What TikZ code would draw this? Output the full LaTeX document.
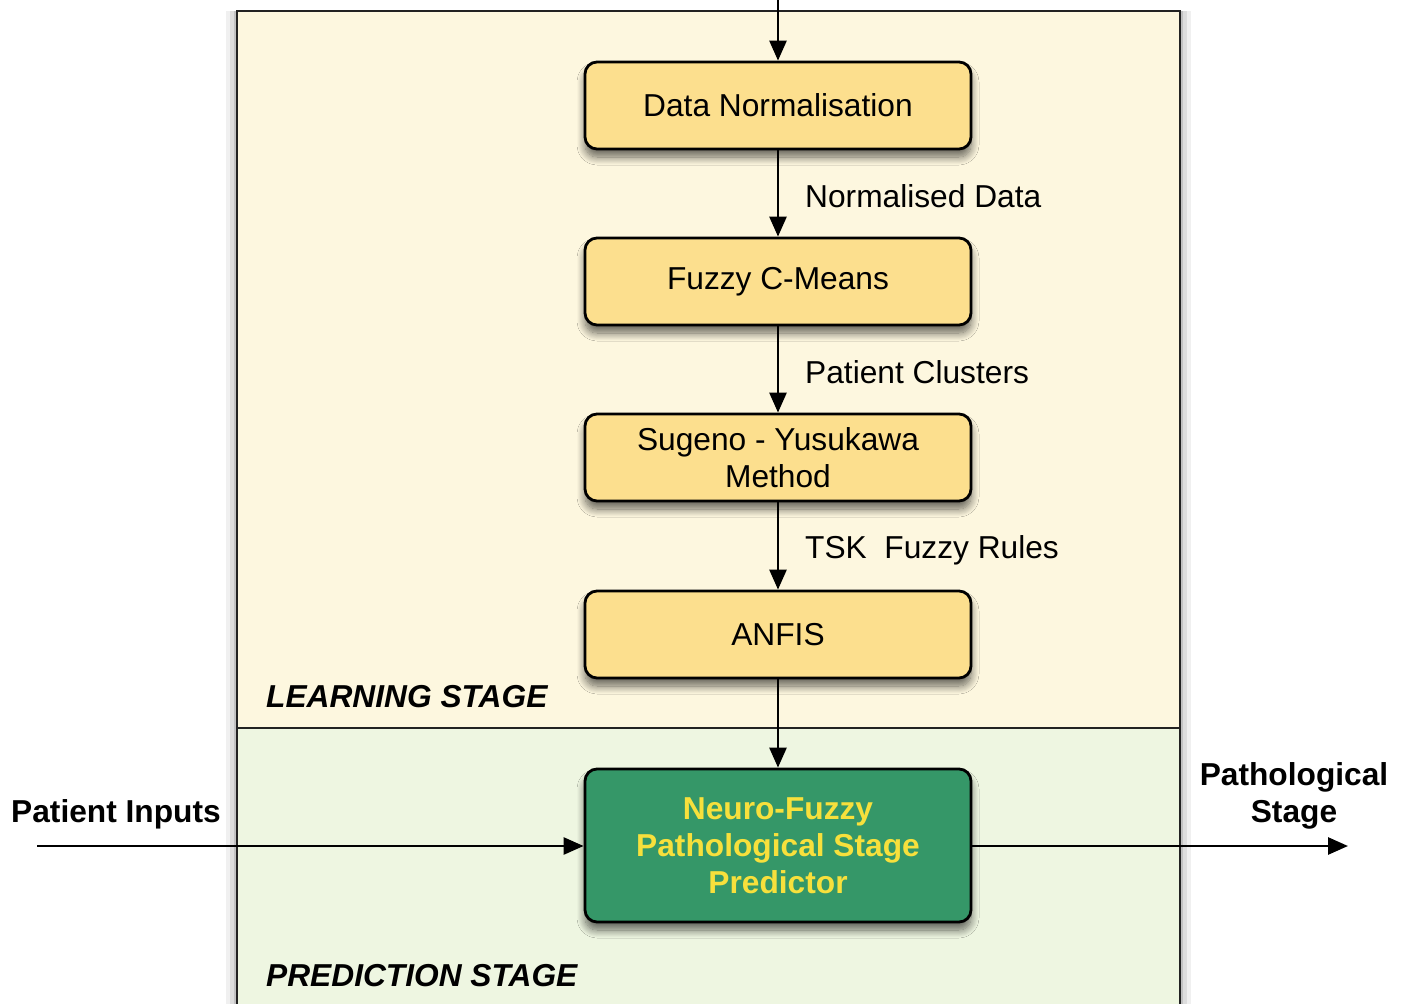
\documentclass[tikz,border=0pt]{standalone}
\usepackage{fontspec}
\setmainfont{Liberation Sans}
\usetikzlibrary{arrows.meta,shadows.blur}
\definecolor{cream}{HTML}{FDF7DF}
\definecolor{palegreen}{HTML}{EEF6E1}
\definecolor{boxyellow}{HTML}{FCDF8E}
\definecolor{boxgreen}{HTML}{359768}
\definecolor{txtyellow}{HTML}{F7E03C}
\definecolor{framegray}{HTML}{222222}
\begin{document}
\begin{tikzpicture}[x=1pt,y=-1pt,
  txt/.style={font=\fontsize{31.7}{37.5}\selectfont},
  btxt/.style={font=\fontsize{31.7}{37}\selectfont\bfseries},
  stagetxt/.style={font=\fontsize{31.7}{37}\selectfont\bfseries\itshape, anchor=base west, inner sep=0pt},
  procbox/.style={rectangle, rounded corners=12pt, draw=black, line width=2.8pt,
     fill=boxyellow, minimum width=386pt, minimum height=87pt, align=center, txt,
     blur shadow={shadow blur steps=12, shadow xshift=0pt, shadow yshift=-8pt, shadow opacity=60, shadow blur radius=8pt}},
  predbox/.style={procbox, fill=boxgreen, minimum height=153pt, text=txtyellow, btxt},
  conn/.style={line width=2.7pt, -{Triangle[length=20pt,width=17pt]}},
  lbl/.style={txt, anchor=base west, inner sep=0pt}
]
\useasboundingbox (0,0) rectangle (1406,1004);
\clip (0,0) rectangle (1406,1004);
% frame shadow
\fill[black, opacity=0.06] (226,11) rectangle (1191,1020);
\fill[black, opacity=0.08] (230,11) rectangle (1187,1020);
\fill[black, opacity=0.12] (234,11) rectangle (1183,1020);
% stage regions
\fill[cream] (237,11) rectangle (1180,728);
\fill[palegreen] (237,728) rectangle (1180,1020);
\draw[framegray, line width=2.4pt] (237,1020) -- (237,11) -- (1180,11) -- (1180,1020);
\draw[framegray, line width=2.4pt] (237,728) -- (1180,728);
% stage labels
\node[stagetxt] (learn) at (266,707) {LEARNING STAGE};
\node[stagetxt] (pred) at (266,986) {PREDICTION STAGE};
% boxes
\node[procbox] (dn) at (778,105.5) {Data Normalisation};
\node[procbox] (fcm) at (778,281.5) {\raisebox{-3pt}{Fuzzy C-Means}};
\node[procbox] (sy) at (778,457.5) {Sugeno - Yusukawa\\Method};
\node[procbox] (anfis) at (778,634.5) {ANFIS};
\node[predbox] (nf) at (778,845.5) {Neuro-Fuzzy\\Pathological Stage\\Predictor};
% connectors
\coordinate (top) at (778,0);
\coordinate (inp) at (37,846);
\coordinate (outp) at (1348,846);
\draw[conn] (top) -- (dn);
\draw[conn] (dn) -- (fcm);
\draw[conn] (fcm) -- (sy);
\draw[conn] (sy) -- (anfis);
\draw[conn] (anfis) -- (nf);
\draw[conn] (inp) -- (nf.west |- inp);
\draw[conn] (nf.east |- outp) -- (outp);
% edge labels
\node[lbl] (l1) at (805,207) {Normalised Data};
\node[lbl] (l2) at (805,383) {Patient Clusters};
\node[lbl] (l3) at (805,558) {TSK\ \ Fuzzy Rules};
\node[btxt, anchor=base] (pin) at (116,822) {Patient Inputs};
\node[btxt, align=center] (pst) at (1294,796) {Pathological\\Stage};
\end{tikzpicture}
\end{document}
